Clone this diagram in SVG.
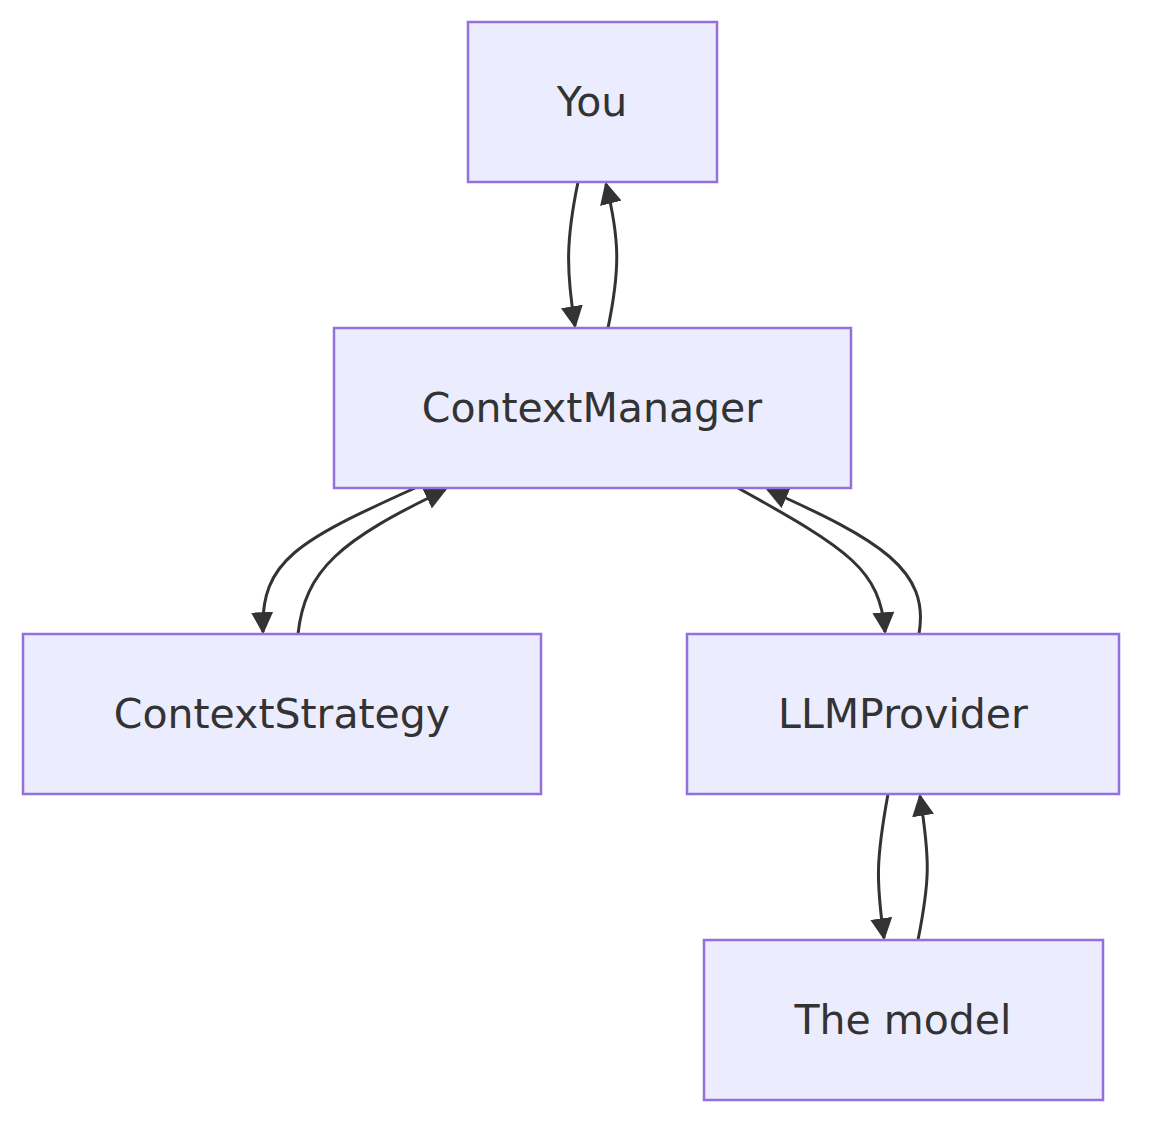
<svg xmlns="http://www.w3.org/2000/svg" width="1167" height="1146" viewBox="0 0 1167 1146">
<style>
.n rect{fill:#ECECFF;stroke:#9370DB;stroke-width:2.5}
.n text{font-family:"DejaVu Sans","Open Sans",sans-serif;font-size:41px;fill:#333;text-anchor:middle;dominant-baseline:central}
.e path{fill:none;stroke:#333;stroke-width:3}
</style>
<defs>
<marker id="a" viewBox="0 0 10 10" refX="9" refY="5" markerWidth="22" markerHeight="22" markerUnits="userSpaceOnUse" orient="auto">
<path d="M0,0L10,5L0,10z" fill="#333"/>
</marker>
</defs>
<rect width="1167" height="1146" fill="#fff"/>
<g class="e">
<path d="M578,182 C566,240 566,270 575,326" marker-end="url(#a)"/>
<path d="M608,328 C620,270 620,240 606,184" marker-end="url(#a)"/>
<path d="M415,488 C300,540 260,560 263,632" marker-end="url(#a)"/>
<path d="M298,634 C305,570 340,540 445,490" marker-end="url(#a)"/>
<path d="M738,488 C850,550 880,570 885,632" marker-end="url(#a)"/>
<path d="M919,634 C930,570 880,540 768,490" marker-end="url(#a)"/>
<path d="M888,794 C876,860 876,880 884,938" marker-end="url(#a)"/>
<path d="M918,940 C930,880 930,860 920,796" marker-end="url(#a)"/>
</g>
<g id="you" class="n"><rect x="468" y="22" width="249" height="160"/><text x="592" y="102">You</text></g>
<g id="cm" class="n"><rect x="334" y="328" width="517" height="160"/><text x="592" y="408">ContextManager</text></g>
<g id="cs" class="n"><rect x="23" y="634" width="518" height="160"/><text x="282" y="714">ContextStrategy</text></g>
<g id="llm" class="n"><rect x="687" y="634" width="432" height="160"/><text x="903" y="714">LLMProvider</text></g>
<g id="model" class="n"><rect x="704" y="940" width="399" height="160"/><text x="903" y="1020">The model</text></g>
</svg>
